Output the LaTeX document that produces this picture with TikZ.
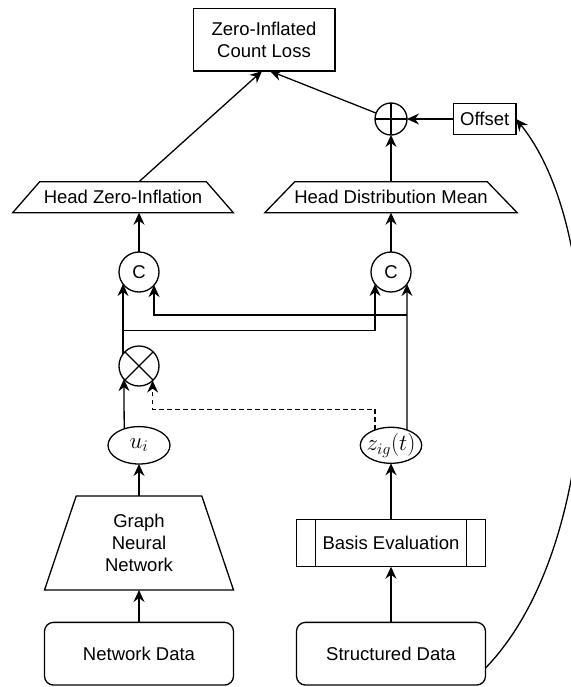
\RequirePackage{fix-cm}
\documentclass[tikz,border=0pt]{standalone}
\usepackage{fontspec}
\setmainfont{Liberation Sans}
\usetikzlibrary{arrows.meta,shapes.geometric}
\begin{document}
\begin{tikzpicture}[x=1pt,y=-1pt,line width=1.3pt,
  every node/.style={outer sep=0pt,inner sep=0pt,font=\fontsize{18.5}{21.7}\selectfont},
  mathtxt/.style={font=\fontsize{23}{27}\selectfont},
  arr/.style={-{Stealth[length=12pt,width=11pt,inset=4pt]}},
  dsh/.style={dash pattern=on 4.5pt off 3.5pt},
  rbox/.style={draw,rounded corners=9pt,minimum width=189pt,minimum height=62.7pt},
  opnode/.style={draw,circle,minimum size=40pt}]
\useasboundingbox (0,0) rectangle (570,687);
% nodes
\node[draw,minimum width=141.7pt,minimum height=62.7pt,align=center] (loss) at (264,39.7) {Zero-Inflated\\Count Loss};
\node[draw,circle,minimum size=32pt] (op) at (391,119) {};
\draw (op.north) -- (op.south) (op.west) -- (op.east);
\node[draw,minimum width=62.7pt,minimum height=31.3pt] (off) at (484.7,119) {Offset};
\node[minimum width=220.6pt,minimum height=31pt] (hzi) at (123,197.2) {Head Zero-Inflation};
\draw (hzi.south west) -- ([xshift=27pt]hzi.north west) -- ([xshift=-27pt]hzi.north east) -- (hzi.south east) -- cycle;
\node[minimum width=252.4pt,minimum height=31pt] (hdm) at (391,197.2) {Head Distribution Mean};
\draw (hdm.south west) -- ([xshift=30pt]hdm.north west) -- ([xshift=-30pt]hdm.north east) -- (hdm.south east) -- cycle;
\node[opnode] (c1) at (139,272) {C};
\node[opnode] (c2) at (391,272) {C};
\node[opnode] (ot) at (139,366) {};
\draw (ot.north west) -- (ot.south east) (ot.north east) -- (ot.south west);
\node[draw,ellipse,minimum width=62pt,minimum height=37.4pt] (ui) at (139,445.3) {};
\node[mathtxt] (uit) at (ui) {$u_i$};
\node[draw,ellipse,minimum width=61.4pt,minimum height=36pt] (zig) at (391,445.3) {};
\node[mathtxt] (zigt) at (zig) {$z_{ig}(t)$};
\node[minimum width=189pt,minimum height=94pt,align=center] (gnn) at (139,543) {Graph\\Neural\\Network};
\draw (gnn.south west) -- ([xshift=31.7pt]gnn.north west) -- ([xshift=-31.7pt]gnn.north east) -- (gnn.south east) -- cycle;
\node[rbox] (nd) at (139,653.7) {Network Data};
\node[draw,minimum width=189pt,minimum height=47.4pt] (bas) at (391,543) {Basis Evaluation};
\draw ([xshift=19pt]bas.north west) -- ([xshift=19pt]bas.south west)
      ([xshift=-19pt]bas.north east) -- ([xshift=-19pt]bas.south east);
\node[rbox] (sd) at (391,653.7) {Structured Data};
% helper coordinates
\coordinate (r1) at (0,315);
\coordinate (r2) at (0,330.7);
\coordinate (dy) at (0,409.3);
% connectors
\draw[arr] (nd.north) -- (gnn.south);
\draw[arr] (gnn.north) -- (ui.south);
\draw[arr] (ui.132.5) -- (ot.221);
\draw[arr,dsh] (zig.136) |- (dy -| ot.313) -- (ot.313);
\draw[arr] (ot.143) -- (c1.217);
\draw[arr] (ot.143 |- r2) -| (c2.217);
\draw[arr] (zig.44) -- (c2.323);
\draw[arr] (c2.323 |- r1) -| (c1.319);
\draw[arr] (c1.north) -- (c1.north |- hzi.south);
\draw[arr] (c2.north) -- (c2.north |- hdm.south);
\draw[arr] (op.south |- hdm.north) -- (op.south);
\draw[arr] (off.west) -- (op.east);
\draw[arr] (c1.north |- hzi.north) -- ([xshift=-2pt]loss.south);
\draw[arr] (op) -- ([xshift=6pt]loss.south);
\draw[arr] (sd.north) -- (bas.south);
\draw[arr] (bas.north) -- (zig.south);
\draw[arr] ([yshift=-14.3pt]sd.east) .. controls (605,545) and (610,235) .. (off.east);
\end{tikzpicture}
\end{document}
